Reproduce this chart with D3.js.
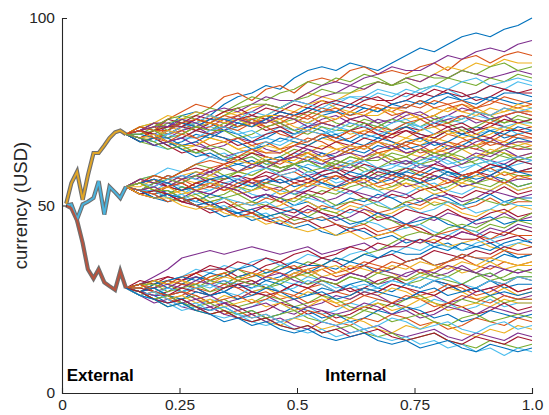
<!DOCTYPE html>
<html>
<head>
<meta charset="utf-8">
<script src="https://cdn.jsdelivr.net/npm/d3@7"></script>
<style>
  body { margin: 0; background: #fff; }
  svg text { font-family: "Liberation Sans", Arial, Helvetica, sans-serif; fill: #262626; }
</style>
</head>
<body>
<div id="chart"></div>
<script>
// shared (external) part: three thick paths starting at 50
const tExternal = [0.009, 0.020, 0.032, 0.044, 0.055, 0.067, 0.078, 0.090, 0.101, 0.113, 0.124, 0.136];
const externalHigh = [50.5, 56, 59, 51.5, 58, 64, 64, 66, 68, 69.5, 70, 69];
const externalMid  = [50, 50.3, 46.3, 50.3, 51, 52, 56.5, 47.6, 55, 53.5, 52, 55];
const externalLow  = [50, 49.3, 46, 40, 33, 30.5, 33, 29.5, 28.5, 27.5, 32.5, 28];

// internal part: fan of paths from the end of each external path
const tInternal = [0.136, 0.166, 0.196, 0.225, 0.255, 0.285, 0.315, 0.345, 0.374, 0.404,
                   0.434, 0.464, 0.494, 0.523, 0.553, 0.583, 0.613, 0.643, 0.672, 0.702,
                   0.732, 0.762, 0.792, 0.821, 0.851, 0.881, 0.911, 0.941, 0.970, 1.000];

const upperPaths = [
  [69,70,72,71,74,75,74,77,79,80,82,81,84,86,87,86,88,87,86,88,90,92,91,93,95,96,95,97,98,100],
  [69,71,70,73,75,77,76,79,80,78,81,82,80,83,84,83,86,87,85,86,85,87,88,86,89,90,88,90,91,90],
  [69,68,70,71,70,72,73,75,74,76,77,76,78,80,79,78,80,81,83,82,84,83,85,87,86,88,87,89,88,88],
  [69,70,69,71,72,71,73,72,74,75,77,76,78,77,79,80,82,81,83,82,84,83,85,84,86,85,84,85,86,85],
  [69,71,72,70,73,74,76,75,77,79,78,80,81,83,82,84,83,85,84,82,83,81,82,84,83,82,84,83,85,84],
  [69,68,67,69,70,72,71,70,72,74,73,75,74,76,75,77,79,78,80,79,81,80,82,81,79,80,82,81,83,82],
  [69,70,71,73,72,74,73,75,76,74,73,75,77,76,78,77,76,78,79,77,78,80,79,81,80,78,79,81,80,80],
  [69,67,68,70,69,71,72,70,71,73,72,74,73,72,74,75,74,76,75,77,76,78,77,79,78,77,79,78,77,78],
  [69,70,72,71,72,70,71,73,74,72,73,71,72,74,76,75,73,74,76,75,77,76,78,77,75,76,78,77,76,77],
  [69,68,70,69,71,73,72,74,75,73,74,76,75,77,78,76,75,74,76,75,73,74,76,75,77,76,74,75,77,76],
  [69,70,69,68,70,71,69,70,72,71,73,72,70,71,73,74,72,71,73,72,74,75,73,74,76,75,73,74,75,74],
  [69,71,70,72,73,71,70,72,71,73,74,72,73,75,74,72,71,73,72,70,71,73,74,72,73,75,74,72,74,73],
  [69,68,69,67,68,70,69,71,70,68,69,71,70,72,71,69,70,72,71,73,72,70,71,73,72,74,73,71,72,72],
  [69,70,68,69,71,70,72,71,73,72,70,71,69,70,72,71,73,72,70,69,71,70,72,71,69,70,72,71,70,71],
  [69,67,68,66,67,69,68,70,69,67,68,70,69,71,70,68,67,69,68,70,71,69,68,70,69,71,70,68,69,70],
  [69,70,71,69,70,68,69,71,70,72,71,69,68,70,69,67,68,70,69,67,66,68,67,69,68,66,67,69,68,68],
  [69,68,66,67,65,66,68,67,65,66,64,65,67,66,68,67,65,66,64,65,67,66,68,67,65,66,68,67,66,67],
  [69,68,69,67,66,67,65,66,68,67,65,64,66,65,63,64,66,65,67,66,64,65,63,64,66,65,64,66,65,65],
  [69,67,66,67,65,64,66,65,63,64,62,63,65,64,62,61,63,62,64,63,61,62,64,63,61,62,64,63,62,63],
  [69,68,66,65,66,64,63,64,62,63,61,62,64,63,61,60,62,61,59,60,62,61,63,62,60,61,59,60,62,61],
  [69,67,68,66,64,65,63,62,63,61,62,60,61,63,62,60,59,61,60,58,59,61,60,58,57,59,58,60,59,59],
  [69,68,66,67,65,63,64,62,61,62,60,59,61,60,58,59,57,58,60,59,57,56,58,57,55,56,58,57,55,56],
  [69,70,68,69,71,72,74,73,71,72,74,73,75,74,72,73,75,77,76,74,75,73,74,76,77,75,74,76,75,75],
  [69,71,72,74,73,75,74,72,73,71,72,73,71,70,72,71,69,70,71,69,68,70,71,69,70,68,69,71,70,69],
  [69,70,72,72,71,73,75,76,75,77,79,78,78,80,82,83,82,84,85,87,86,86,88,90,89,91,92,91,93,94],
  [69,69,71,73,74,73,72,74,76,77,77,76,78,79,81,80,80,82,83,82,84,85,84,84,86,85,87,88,86,87],
  [69,70,69,69,71,72,74,73,73,75,74,76,78,77,76,78,79,79,81,80,79,81,82,81,83,84,82,83,84,83],
  [69,68,70,71,71,73,72,71,73,74,76,75,74,75,77,78,77,79,78,78,80,79,81,80,79,80,82,81,80,81],
  [69,69,68,70,72,71,73,73,72,71,73,75,74,76,75,75,77,76,75,77,78,77,79,80,78,79,78,80,80,79],
  [69,71,70,70,72,73,72,74,73,73,71,72,74,73,75,76,74,75,77,76,76,78,76,77,78,76,77,79,78,77],
  [69,68,68,70,69,71,72,71,73,72,74,74,73,72,74,73,75,74,74,76,75,73,74,76,75,74,76,75,76,75],
  [69,70,71,71,73,72,70,71,73,72,72,74,73,71,72,71,73,74,72,73,75,74,72,73,74,72,73,74,72,73],
  [69,69,70,68,69,71,70,70,68,69,71,72,70,69,71,70,70,72,71,73,72,71,73,72,70,71,73,72,73,72],
  [69,68,67,69,68,68,70,71,69,70,68,67,69,70,69,71,70,68,69,70,72,71,69,70,71,69,70,71,69,70],
  [69,70,69,67,68,70,69,68,66,67,69,70,68,67,69,68,70,71,69,68,70,69,68,70,71,69,68,70,70,69],
  [69,67,68,68,66,67,69,68,67,65,66,68,67,66,68,69,67,66,68,67,65,66,67,65,66,68,67,66,68,67],
  [69,70,68,67,69,68,66,67,68,66,67,65,66,68,67,65,64,66,67,65,66,64,65,67,66,65,67,66,65,66],
  [69,68,69,67,66,66,68,67,65,64,66,65,63,64,66,65,64,62,63,65,64,63,65,64,62,63,65,64,63,64],
  [69,68,66,67,68,66,65,63,64,65,63,62,63,65,64,62,61,63,64,62,61,63,62,60,61,63,62,61,63,62],
  [69,68,67,65,66,64,65,63,62,63,61,60,61,62,60,59,61,60,58,59,60,58,57,59,58,56,57,59,58,58]
];

const middlePaths = [
  [55,57,58,60,59,61,63,62,64,65,67,66,68,67,69,70,72,71,70,72,73,71,72,74,73,75,74,76,75,76],
  [55,56,58,57,59,60,59,61,62,64,63,62,64,66,65,67,66,68,67,69,70,68,69,71,72,70,71,73,72,73],
  [55,54,56,58,57,59,58,60,61,60,62,63,61,62,64,63,65,64,66,65,67,68,66,67,69,68,70,69,71,70],
  [55,57,56,55,57,58,60,61,59,60,62,61,63,64,62,63,65,66,64,65,67,66,64,65,67,68,66,67,69,68],
  [55,56,54,55,57,56,58,57,59,58,60,62,61,63,62,60,61,63,64,62,63,65,64,66,65,63,64,66,67,66],
  [55,54,55,57,56,58,59,57,58,56,57,59,60,58,59,61,60,62,63,61,62,60,61,63,62,64,63,65,63,64],
  [55,57,58,57,59,61,60,58,59,61,62,60,61,59,60,62,61,59,60,62,63,61,62,64,63,61,62,64,62,63],
  [55,53,54,56,55,53,54,56,57,55,56,58,57,59,58,56,57,59,60,58,59,61,60,58,59,61,62,60,61,62],
  [55,56,57,55,54,56,55,57,58,57,59,58,56,57,59,60,58,57,59,58,60,59,61,60,58,59,61,60,62,61],
  [55,54,52,53,55,54,56,55,53,54,56,57,55,56,58,57,59,58,56,57,59,58,60,59,57,58,60,61,59,60],
  [55,57,56,58,57,55,56,54,55,57,56,58,59,57,56,58,57,55,56,58,57,59,58,56,57,59,60,58,59,59],
  [55,56,55,53,54,56,57,55,54,56,55,53,54,56,57,55,56,58,57,55,56,54,55,57,56,58,57,59,57,58],
  [55,54,56,55,57,58,56,55,57,56,54,55,53,54,56,55,57,56,58,57,55,56,58,57,55,56,58,56,57,57],
  [55,56,54,53,55,54,52,53,55,54,56,55,53,52,54,53,55,56,54,55,57,56,54,55,57,56,55,57,55,56],
  [55,53,54,52,53,55,54,56,55,53,52,54,53,55,56,54,53,55,54,52,53,55,56,54,53,55,54,56,54,55],
  [55,56,57,55,56,54,53,55,54,52,53,51,52,54,53,55,54,52,51,53,52,54,55,53,52,54,53,55,53,54],
  [55,54,53,54,52,51,53,52,50,51,53,52,50,51,49,50,52,51,53,52,50,51,53,52,50,51,53,51,52,52],
  [55,53,52,53,51,52,50,49,51,50,52,51,49,48,50,49,51,50,48,49,51,50,52,51,49,50,52,50,51,51],
  [55,56,54,53,54,52,51,52,50,51,49,50,52,51,49,48,50,49,47,48,50,49,51,50,48,47,49,48,50,49],
  [55,54,52,53,51,50,51,49,48,49,50,48,47,49,48,46,47,49,48,46,45,47,46,48,47,45,46,48,46,47],
  [55,53,54,52,51,52,50,49,50,48,47,48,46,47,49,48,46,45,47,46,44,45,47,46,44,43,45,44,46,45],
  [55,54,53,51,52,50,49,50,48,47,48,46,45,46,47,45,44,46,45,43,44,45,43,42,44,43,41,42,44,43],
  [55,53,52,53,51,50,48,49,47,48,46,45,47,46,44,45,43,44,42,43,45,44,42,41,43,42,40,41,42,40],
  [55,54,52,51,52,50,49,47,48,46,47,45,44,45,43,42,44,43,41,42,40,41,39,40,38,39,40,38,36,37],
  [55,56,58,57,59,61,62,61,63,65,64,64,66,67,69,68,70,69,71,70,72,73,71,72,74,73,72,74,75,74],
  [55,55,57,56,58,59,58,60,62,61,63,62,62,64,63,65,66,65,67,66,68,67,69,70,68,69,71,70,72,71],
  [55,57,56,56,58,57,59,60,59,61,60,62,63,62,61,63,64,63,65,66,64,65,67,66,65,67,68,66,67,67],
  [55,54,56,57,56,58,57,57,59,58,60,59,61,62,60,61,63,62,62,64,63,65,64,63,65,66,64,65,66,65],
  [55,56,55,57,58,57,56,58,57,59,60,58,59,61,60,59,61,62,60,61,60,62,63,61,62,63,61,62,63,62],
  [55,53,54,55,54,56,57,56,55,57,58,56,57,56,58,59,57,58,60,59,58,57,59,60,58,59,61,60,59,60],
  [55,56,57,56,54,55,57,58,56,55,57,56,57,58,56,55,56,58,57,59,58,56,57,59,58,57,58,60,59,58],
  [55,54,53,55,56,54,55,54,56,57,55,54,56,55,57,58,56,57,55,56,58,57,55,56,58,59,57,56,58,57],
  [55,56,54,55,53,54,56,55,53,54,55,53,54,56,55,54,56,57,55,54,56,55,53,54,56,55,54,56,54,55],
  [55,54,55,53,52,54,53,55,54,52,53,52,54,53,51,52,54,53,52,54,53,51,52,53,51,52,54,53,52,53],
  [55,56,54,54,52,53,51,52,53,51,50,52,51,53,52,50,51,52,50,49,51,52,50,51,50,52,51,50,52,51],
  [55,54,54,52,53,51,50,52,51,50,51,49,50,52,51,49,48,50,51,49,50,48,49,51,50,48,49,51,50,50],
  [55,53,54,53,51,52,50,51,49,48,50,49,48,50,48,47,49,48,46,47,49,48,47,49,47,46,48,49,47,48],
  [55,54,52,53,52,50,51,49,48,49,47,48,49,47,46,47,45,46,48,47,45,46,47,45,44,46,47,45,46,46],
  [55,54,53,51,52,50,49,49,47,48,46,47,45,46,47,45,44,45,43,44,45,43,42,43,44,42,41,43,42,42],
  [55,53,52,52,50,49,50,48,47,47,45,46,44,43,44,42,43,41,42,43,41,40,41,39,40,41,39,38,40,39]
];

const lowerPaths = [
  [28,29,31,33,36,37,38,37,38,39,38,37,38,39,37,38,39,40,38,39,41,40,42,41,43,42,44,43,45,44],
  [28,27,29,30,29,31,30,32,33,31,32,34,33,35,34,36,35,37,38,40,42,43,42,44,45,44,46,47,46,48],
  [28,29,28,30,31,33,32,34,33,35,36,34,35,37,36,35,37,38,36,37,39,38,40,39,38,40,41,39,40,41],
  [28,30,29,31,30,32,34,33,31,32,34,35,33,34,36,35,33,34,36,37,35,36,38,37,36,38,37,39,38,39],
  [28,27,28,30,29,31,30,29,31,32,30,31,33,32,34,33,35,34,32,33,35,36,34,35,37,36,35,37,36,37],
  [28,29,30,29,31,32,30,31,33,32,31,33,34,32,33,31,32,34,33,35,34,32,33,35,36,34,33,35,34,35],
  [28,27,29,28,30,29,31,32,30,29,31,30,32,31,33,34,32,31,33,32,30,31,33,34,32,33,35,33,34,34],
  [28,29,27,28,30,31,29,30,28,29,31,30,32,33,31,30,32,31,29,30,32,33,31,32,34,32,31,33,32,33],
  [28,28,30,29,27,28,30,29,31,30,28,29,31,32,30,29,31,30,32,31,29,30,32,31,33,32,30,31,33,32],
  [28,29,28,26,27,29,28,30,29,27,28,30,29,31,30,28,29,27,28,30,29,31,30,28,29,31,32,30,31,31],
  [28,27,26,27,29,28,26,27,29,30,28,27,29,28,30,29,27,28,30,31,29,28,30,29,27,28,30,29,31,30],
  [28,29,30,28,27,28,26,27,29,28,30,29,27,26,28,27,29,30,28,27,29,28,30,29,27,28,30,28,29,29],
  [28,26,27,25,26,28,27,29,28,26,27,25,26,28,29,27,26,28,27,29,28,26,27,29,28,26,27,29,27,28],
  [28,27,25,26,27,25,24,26,25,27,28,26,25,27,26,24,25,27,26,28,27,25,26,28,27,25,26,28,26,27],
  [28,29,27,26,27,25,26,24,25,27,26,24,25,23,24,26,25,27,26,24,25,27,26,24,25,27,28,26,25,26],
  [28,27,28,26,25,26,24,25,23,24,26,25,23,24,26,25,23,22,24,23,25,26,24,23,25,24,26,24,25,25],
  [28,26,25,26,24,23,25,24,22,23,25,24,22,23,21,22,24,23,25,24,22,23,25,24,22,23,25,23,24,24],
  [28,27,25,24,25,23,22,24,23,21,22,24,23,21,22,20,21,23,22,24,23,21,22,24,23,21,22,24,22,23],
  [28,27,26,24,25,23,22,23,21,22,20,21,23,22,20,21,19,20,22,21,23,22,20,21,19,20,22,21,20,21],
  [28,26,27,25,24,22,23,21,22,20,21,19,20,22,21,19,18,20,19,21,20,18,19,17,18,20,19,18,20,19],
  [28,27,25,26,24,23,21,22,20,21,19,18,20,19,17,18,20,19,17,16,18,17,19,18,16,15,17,16,18,17],
  [28,26,24,25,23,22,23,21,20,21,19,20,18,17,19,18,16,17,18,16,15,16,17,15,14,16,15,14,16,15],
  [28,27,25,23,24,22,21,22,20,19,20,18,17,18,16,17,18,16,15,16,14,15,16,14,13,12,14,13,12,13],
  [28,26,25,24,22,23,21,20,21,19,18,19,17,16,17,15,16,17,15,14,15,13,14,12,13,11,12,10,12,11],
  [28,29,30,31,30,32,33,33,35,34,36,35,37,38,36,37,39,38,40,39,39,41,40,42,41,41,43,42,44,43],
  [28,27,29,30,31,30,32,31,33,34,32,33,35,34,34,36,35,37,36,38,37,37,39,38,40,39,38,40,41,40],
  [28,29,28,30,29,29,31,32,30,31,33,32,31,33,34,32,33,35,34,33,35,36,34,35,37,36,36,38,37,37],
  [28,28,30,29,30,28,29,31,30,32,31,30,32,33,31,32,34,33,32,34,33,35,34,33,35,34,36,35,34,35],
  [28,27,28,29,28,30,29,28,30,29,31,32,30,29,31,30,32,31,33,32,31,33,32,34,33,32,34,33,32,33],
  [28,29,29,27,28,29,27,28,30,29,28,30,31,29,30,29,31,30,29,31,30,32,31,30,29,31,32,30,31,31],
  [28,27,26,28,27,28,29,27,26,28,29,27,28,30,29,27,28,29,28,30,29,28,30,31,29,28,30,29,31,30],
  [28,28,27,26,28,27,26,28,29,27,26,27,29,28,26,27,28,26,27,29,28,27,26,28,29,27,28,29,27,28],
  [28,27,28,26,25,27,26,27,25,26,28,27,25,26,27,25,26,28,27,26,25,27,28,26,27,28,26,27,26,27],
  [28,29,27,26,27,26,24,25,26,24,25,27,26,24,25,23,24,26,25,24,26,25,23,24,26,25,24,26,25,25],
  [28,26,27,25,26,24,25,23,24,25,23,24,22,23,25,24,22,23,24,22,23,25,24,22,23,24,23,25,24,24],
  [28,27,26,26,24,25,23,24,22,23,24,22,21,23,22,21,22,24,23,21,22,20,21,23,22,21,23,22,21,22],
  [28,27,25,26,24,23,24,22,21,22,20,21,22,20,19,21,20,22,21,19,20,21,19,18,20,21,19,20,21,20],
  [28,26,27,25,23,24,22,23,21,20,21,19,20,21,19,18,19,17,18,20,19,17,18,19,17,16,18,19,17,18],
  [28,27,25,24,25,23,21,22,20,19,20,18,17,18,16,17,15,16,17,15,14,15,16,14,13,15,14,13,15,14],
  [28,26,25,23,24,22,21,19,20,18,19,17,16,17,15,14,15,16,14,13,14,12,13,14,12,11,13,12,11,12]
];

const xTicks = [0, 0.25, 0.5, 0.75, 1];
const xTickLabels = ['0', '0.25', '0.5', '0.75', '1.0'];
const yTicks = [0, 50, 100];
const phaseLabels = [['External', 0.01], ['Internal', 0.56]];

// MATLAB default line colour order
const lineColors = ['#0072BD', '#D95319', '#EDB120', '#7E2F8E', '#77AC30', '#4DBEEE', '#A2142F'];
const externalColors = ['#E0A526', '#4AB3DD', '#B8533E'];

class FanChart {

    width; height; margin;
    svg; chart; scaleX; scaleY;

    // margin: [top, bottom, left, right]
    constructor(container, width, height, margin){
        this.width = width;
        this.height = height;
        this.margin = margin;
        this.svg = d3.select(container).append('svg')
            .attr('width', width)
            .attr('height', height);
        this.scaleX = d3.scaleLinear([0, 1], [margin[2], width - margin[3]]);
        this.scaleY = d3.scaleLinear([0, 100], [height - margin[1], margin[0]]);
        this.chart = this.svg.append('g');
    }

    #drawAxes(){
        let axisX = d3.axisBottom(this.scaleX)
                .tickValues(xTicks)
                .tickFormat((d, i) => xTickLabels[i])
                .tickSize(-5).tickPadding(6),
            axisY = d3.axisLeft(this.scaleY)
                .tickValues(yTicks)
                .tickSize(-5).tickPadding(7);
        let gx = this.svg.append('g')
            .attr('transform', `translate(0,${this.scaleY(0)})`)
            .call(axisX);
        let gy = this.svg.append('g')
            .attr('transform', `translate(${this.scaleX(0)},0)`)
            .call(axisY);
        [gx, gy].forEach(g => {
            g.select('.domain').attr('stroke', '#262626').attr('stroke-width', 1.1);
            g.selectAll('.tick line').attr('stroke', '#262626');
            g.selectAll('.tick text').style('font-size', '15.5px').attr('fill', '#262626');
        });
        this.svg.append('text')
            .attr('transform', `translate(27,${this.scaleY(50)})rotate(-90)`)
            .style('text-anchor', 'middle')
            .style('font-size', '18.5px')
            .text('currency (USD)');
    }

    #drawPaths(){
        let internal = d3.line()
            .x((d, i) => this.scaleX(tInternal[i]))
            .y(d => this.scaleY(d));
        let all = [...upperPaths, ...middlePaths, ...lowerPaths];
        this.chart.selectAll('path.internal')
            .data(all)
            .join('path')
            .classed('internal', true)
            .attr('d', internal)
            .attr('fill', 'none')
            .attr('stroke', (d, i) => lineColors[i % lineColors.length])
            .attr('stroke-width', 1.2)
            .attr('stroke-linejoin', 'round');

        let external = d3.line()
            .x((d, i) => this.scaleX(tExternal[i]))
            .y(d => this.scaleY(d));
        let ext = [externalHigh, externalMid, externalLow];
        // grey outline under a coloured core
        this.chart.selectAll('path.ext-outline')
            .data(ext)
            .join('path')
            .classed('ext-outline', true)
            .attr('d', external)
            .attr('fill', 'none')
            .attr('stroke', '#6f6f6f')
            .attr('stroke-width', 4.2)
            .attr('stroke-linejoin', 'miter');
        this.chart.selectAll('path.ext-core')
            .data(ext)
            .join('path')
            .classed('ext-core', true)
            .attr('d', external)
            .attr('fill', 'none')
            .attr('stroke', (d, i) => externalColors[i])
            .attr('stroke-width', 2)
            .attr('stroke-linejoin', 'miter');
    }

    #drawLabels(){
        this.svg.selectAll('text.phase')
            .data(phaseLabels)
            .join('text')
            .classed('phase', true)
            .attr('x', d => this.scaleX(d[1]))
            .attr('y', this.scaleY(3.2))
            .style('font-size', '17px')
            .style('font-weight', 'bold')
            .style('fill', '#000')
            .text(d => d[0]);
    }

    render(){
        this.#drawPaths();
        this.#drawAxes();
        this.#drawLabels();
        return this;
    }
}

new FanChart('#chart', 549, 415, [18, 22, 62, 17]).render();
</script>
</body>
</html>
